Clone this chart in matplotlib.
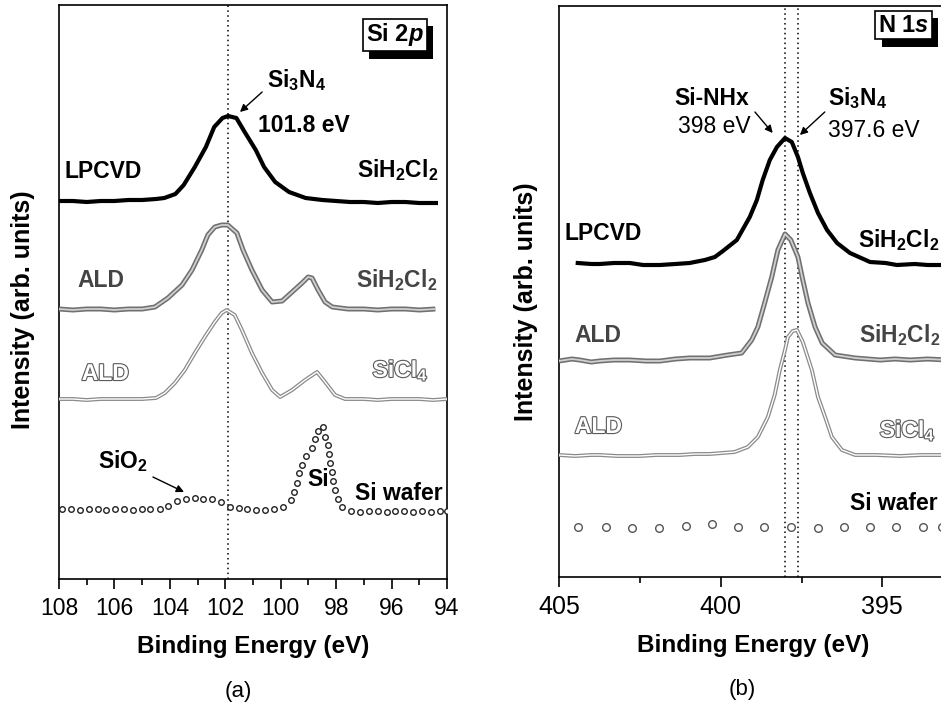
import matplotlib
matplotlib.use('Agg')
import matplotlib.pyplot as plt
import matplotlib.patheffects as pe

plt.rcParams['font.family'] = ['Liberation Sans', 'DejaVu Sans']
plt.rcParams['mathtext.fontset'] = 'custom'
plt.rcParams['mathtext.rm'] = 'Liberation Sans:bold'
plt.rcParams['mathtext.it'] = 'Liberation Sans:bold:italic'
plt.rcParams['mathtext.bf'] = 'Liberation Sans:bold'

# ---------------- (a) Si 2p ----------------
si_lpcvd_e = [108.0, 107.5, 107.0, 106.5, 106.0, 105.5, 105.0, 104.5, 104.2, 103.8, 103.5,
              103.1, 102.7, 102.4, 102.1, 101.9, 101.6, 101.3, 100.9, 100.6, 100.2, 99.7,
              99.1, 98.5, 98.0, 97.5, 97.0, 96.5, 96.0, 95.5, 95.0, 94.4]
si_lpcvd_i = [378, 378, 377, 378, 378, 379, 379, 380, 381, 385, 394,
              412, 432, 452, 461, 463, 461, 447, 429, 412, 397, 387,
              381, 379, 378, 377, 377, 376, 377, 377, 376, 376]

si_ald_dcs_e = [108.0, 107.5, 107.0, 106.5, 106.0, 105.5, 105.0, 104.54, 104.07, 103.56, 103.2,
                102.85, 102.63, 102.38, 102.13, 101.91, 101.58, 101.36, 101.04, 100.67, 100.31,
                99.95, 99.59, 99.23, 99.01, 98.87, 98.65, 98.4, 98.14, 97.57, 97.0, 96.5, 96.0,
                95.5, 95.0, 94.42]
si_ald_dcs_i = [270, 269, 270, 270, 269, 270, 270, 272, 281, 294, 309,
                329, 344, 352, 354, 354, 346, 329, 309, 289, 277,
                278, 287, 296, 302, 301, 289, 277, 272, 270, 270, 269, 270,
                270, 269, 270]

si_ald_tc_e = [108.0, 107.5, 107.0, 106.5, 106.0, 105.5, 105.0, 104.5, 104.18, 103.82, 103.46,
               103.1, 102.74, 102.38, 102.13, 101.95, 101.66, 101.4, 101.04, 100.67, 100.31,
               100.02, 99.59, 99.12, 98.69, 98.4, 98.04, 97.68, 97.0, 96.5, 96.0, 95.5, 95.0,
               94.5, 94.0]
si_ald_tc_i = [180, 180, 179, 180, 180, 180, 180, 181, 186, 196, 209,
               226, 242, 257, 266, 269, 264, 249, 226, 206, 189,
               182, 189, 199, 207, 197, 184, 180, 180, 179, 180, 180, 180,
               179, 180]

si_wafer_e = [107.88, 107.57, 107.25, 106.92, 106.60, 106.29, 105.98, 105.66, 105.33, 105.01,
              104.70, 104.36, 104.05, 103.74, 103.42, 103.11, 102.80, 102.48, 102.17, 101.83,
              101.52, 101.21, 100.89, 100.56, 100.24, 99.93, 99.64, 99.52, 99.42, 99.33,
              99.22, 99.08, 98.88, 98.76, 98.64, 98.46, 98.40, 98.31, 98.25, 98.22,
              98.16, 98.10, 98.04, 97.92, 97.79, 97.46, 97.13, 96.82, 96.49, 96.17,
              95.86, 95.54, 95.21, 94.89, 94.58, 94.27, 94.0]
si_wafer_i = [70, 70, 69, 70, 70, 69, 70, 70, 69, 70,
              70, 70, 73, 78, 80, 81, 80, 80, 77, 72,
              71, 70, 69, 69, 70, 72, 79, 87, 96, 106,
              114, 123, 131, 140, 148, 152, 142, 134, 125, 116,
              107, 98, 89, 80, 72, 68, 67, 68, 68, 67,
              68, 68, 67, 68, 67, 68, 68]

si_ticks = [108, 106, 104, 102, 100, 98, 96, 94]
si_minor = [107, 105, 103, 101, 99, 97, 95]
si_peak_line = 101.9

# ---------------- (b) N 1s ----------------
n_lpcvd_e = [404.42, 404.0, 403.74, 403.3, 402.81, 402.4, 401.88, 401.4, 400.96, 400.49, 400.18,
             399.93, 399.50, 399.10, 398.88, 398.70, 398.48, 398.26, 398.01, 397.80, 397.61,
             397.46, 397.24, 396.99, 396.71, 396.40, 396.0, 395.38, 394.9, 394.55, 394.0,
             393.6, 393.0]
n_lpcvd_i = [314, 313, 313, 314, 314, 312, 312, 313, 314, 317, 320,
             326, 337, 360, 377, 397, 417, 430, 439, 435, 420,
             404, 384, 364, 347, 334, 324, 315, 314, 312, 313,
             312, 312]

n_ald_dcs_e = [405.0, 404.6, 404.36, 404.0, 403.74, 403.3, 402.81, 402.3, 401.88, 401.4, 400.96,
               400.34, 399.78, 399.35, 399.04, 398.85, 398.64, 398.42, 398.23, 398.01, 397.83,
               397.61, 397.48, 397.30, 397.08, 396.86, 396.46, 395.84, 395.07, 394.6, 394.14,
               393.6, 393.0]
n_ald_dcs_i = [216, 218, 217, 215, 216, 217, 217, 216, 216, 218, 219,
               219, 222, 224, 237, 250, 274, 300, 327, 343, 337,
               320, 300, 274, 250, 234, 222, 219, 217, 218, 217,
               218, 217]

n_ald_tc_e = [405.0, 404.5, 404.0, 403.74, 403.2, 402.50, 402.0, 401.26, 400.8, 400.34, 399.57,
              399.16, 398.85, 398.54, 398.33, 398.17, 398.01, 397.92, 397.77, 397.64, 397.46,
              397.18, 396.99, 396.77, 396.56, 396.25, 395.84, 395.2, 394.45, 393.8, 393.0]
n_ald_tc_i = [122, 121, 122, 122, 121, 121, 122, 122, 123, 123, 125,
              130, 140, 160, 182, 207, 227, 240, 246, 247, 235,
              207, 180, 160, 140, 127, 122, 122, 121, 122, 122]

n_wafer_e = [404.41, 403.55, 402.73, 401.90, 401.08, 400.26, 399.46, 398.66, 397.84, 397.0,
             396.18, 395.38, 394.58, 393.75, 393.16]
n_wafer_i = [50, 50, 49, 49, 51, 53, 50, 50, 50, 49, 50, 50, 50, 50, 50]

n_ticks = [405, 400, 395]
n_minor = [402.5, 397.5]
n_peak_lines = [398.0, 397.6]

# ---------------- figure ----------------
W, H = 941, 709
fig = plt.figure(figsize=(W / 100, H / 100), dpi=100)

def px_axes(l, t, r, b):
    return fig.add_axes([l / W, 1 - b / H, (r - l) / W, (b - t) / H])

axa = px_axes(59, 5, 447, 579)
axb = px_axes(559, 6, 947, 577)

def double_line(ax, x, y, outer, inner, wo, wi):
    ax.plot(x, y, color=outer, lw=wo, solid_capstyle='butt', zorder=3)
    ax.plot(x, y, color=inner, lw=wi, solid_capstyle='butt', zorder=4)

# panel (a)
axa.axvline(si_peak_line, color='k', ls=(0, (1, 2.2)), lw=1.1, zorder=1)
axa.plot(si_lpcvd_e, si_lpcvd_i, color='black', lw=3.0, zorder=5)
double_line(axa, si_ald_dcs_e, si_ald_dcs_i, '#707070', '#d0d0d0', 3.6, 1.3)
double_line(axa, si_ald_tc_e, si_ald_tc_i, '#8a8a8a', 'white', 2.8, 1.0)
axa.plot(si_wafer_e, si_wafer_i, ls='none', marker='o', ms=4, mfc='white',
         mec='#222222', mew=1.0, zorder=5)
axa.set_xlim(108, 94)
axa.set_ylim(0, 574)

# panel (b)
for v in n_peak_lines:
    axb.axvline(v, color='k', ls=(0, (1, 2.2)), lw=1.1, zorder=1)
axb.plot(n_lpcvd_e, n_lpcvd_i, color='black', lw=3.0, zorder=5)
double_line(axb, n_ald_dcs_e, n_ald_dcs_i, '#707070', '#d0d0d0', 3.6, 1.3)
double_line(axb, n_ald_tc_e, n_ald_tc_i, '#8a8a8a', 'white', 2.8, 1.0)
axb.plot(n_wafer_e, n_wafer_i, ls='none', marker='o', ms=5.5, mfc='white',
         mec='#555555', mew=1.0, zorder=5)
axb.set_xlim(405, 393)
axb.set_ylim(0, 571)

for ax in (axa, axb):
    ax.set_yticks([])
    for s in ax.spines.values():
        s.set_linewidth(1.2)
    ax.tick_params(axis='x', which='major', direction='out', length=7, width=1.2, pad=6)
    ax.tick_params(axis='x', which='minor', direction='out', length=4, width=1.2)

axa.set_xticks(si_ticks)
axa.set_xticks(si_minor, minor=True)
axa.tick_params(axis='x', labelsize=16.5)
axb.set_xticks(n_ticks)
axb.set_xticks(n_minor, minor=True)
axb.tick_params(axis='x', labelsize=18)

bold = dict(fontweight='bold', fontsize=16.5)
hollow_dark = dict(fontweight='bold', fontsize=16.5, color='#444444')
hollow_light = dict(fontweight='bold', fontsize=16.5, color='white',
                    path_effects=[pe.withStroke(linewidth=1.6, foreground='#5a5a5a')])
arrow = dict(arrowstyle='-|>', color='black', lw=1.0, mutation_scale=11, shrinkA=0, shrinkB=0)

# texts (a)
axa.text(100.49, 492, 'Si$_3$N$_4$', ha='left', va='baseline', **bold)
axa.text(100.82, 447, '101.8 eV', ha='left', va='baseline', **bold)
axa.annotate('', xy=(101.47, 467), xytext=(100.67, 487), arrowprops=arrow)
axa.text(107.79, 401, 'LPCVD', ha='left', va='baseline', **bold)
axa.text(94.31, 402, 'SiH$_2$Cl$_2$', ha='right', va='baseline', **bold)
axa.text(107.32, 292, 'ALD', ha='left', va='baseline', **hollow_dark)
axa.text(94.35, 292, 'SiH$_2$Cl$_2$', ha='right', va='baseline', **hollow_dark)
axa.text(107.18, 199, 'ALD', ha='left', va='baseline', **hollow_light)
axa.text(94.68, 202, 'SiCl$_4$', ha='right', va='baseline', **hollow_light)
axa.text(106.6, 111, 'SiO$_2$', ha='left', va='baseline', **bold)
axa.annotate('', xy=(103.49, 87), xytext=(104.61, 102), arrowprops=arrow)
axa.text(99.04, 93, 'Si', ha='left', va='baseline', **bold)
axa.text(94.17, 79, 'Si wafer', ha='right', va='baseline', **bold)
ta = axa.text(95.88, 544, 'Si 2$p$', ha='center', va='center', fontsize=17, fontweight='bold',
              bbox=dict(boxstyle='square,pad=0.12', fc='white', ec='black', lw=1.2))
ta.get_bbox_patch().set_path_effects([pe.SimplePatchShadow(offset=(4.5, -5.5), shadow_rgbFace='black', alpha=1.0), pe.Normal()])

# texts (b)
axb.text(401.42, 472, 'Si-NHx', ha='left', va='baseline', **bold)
axb.text(401.33, 444, '398 eV', ha='left', va='baseline', fontsize=16.5)
axb.text(396.68, 472, 'Si$_3$N$_4$', ha='left', va='baseline', **bold)
axb.text(396.68, 440, '397.6 eV', ha='left', va='baseline', fontsize=16.5)
axb.annotate('', xy=(398.39, 444), xytext=(398.94, 465), arrowprops=arrow)
axb.annotate('', xy=(397.55, 442), xytext=(396.78, 465), arrowprops=arrow)
axb.text(404.82, 337, 'LPCVD', ha='left', va='baseline', **bold)
axb.text(395.75, 330, 'SiH$_2$Cl$_2$', ha='left', va='baseline', **bold)
axb.text(404.51, 235, 'ALD', ha='left', va='baseline', **hollow_dark)
axb.text(395.72, 235, 'SiH$_2$Cl$_2$', ha='left', va='baseline', **hollow_dark)
axb.text(404.51, 144, 'ALD', ha='left', va='baseline', **hollow_light)
axb.text(395.08, 140, 'SiCl$_4$', ha='left', va='baseline', **hollow_light)
axb.text(396.0, 67, 'Si wafer', ha='left', va='baseline', **bold)
tb = axb.text(394.34, 552, 'N 1$s$', ha='center', va='center', fontsize=17, fontweight='bold',
              bbox=dict(boxstyle='square,pad=0.12', fc='white', ec='black', lw=1.2))
tb.get_bbox_patch().set_path_effects([pe.SimplePatchShadow(offset=(4.5, -5.5), shadow_rgbFace='black', alpha=1.0), pe.Normal()])

# axis labels and panel labels
fig.text(23 / W, 1 - 310 / H, 'Intensity (arb. units)', rotation=90, ha='center', va='center',
         fontsize=18, fontweight='bold')
fig.text(526 / W, 1 - 302 / H, 'Intensity (arb. units)', rotation=90, ha='center', va='center',
         fontsize=18, fontweight='bold')
fig.text(253 / W, 1 - 653 / H, 'Binding Energy (eV)', ha='center', va='baseline',
         fontsize=17.5, fontweight='bold')
fig.text(753 / W, 1 - 652 / H, 'Binding Energy (eV)', ha='center', va='baseline',
         fontsize=17.5, fontweight='bold')
fig.text(238 / W, 1 - 691 / H, '(a)', ha='center', va='center', fontsize=16)
fig.text(742 / W, 1 - 689 / H, '(b)', ha='center', va='center', fontsize=16)

fig.savefig('out.png', dpi=100)
